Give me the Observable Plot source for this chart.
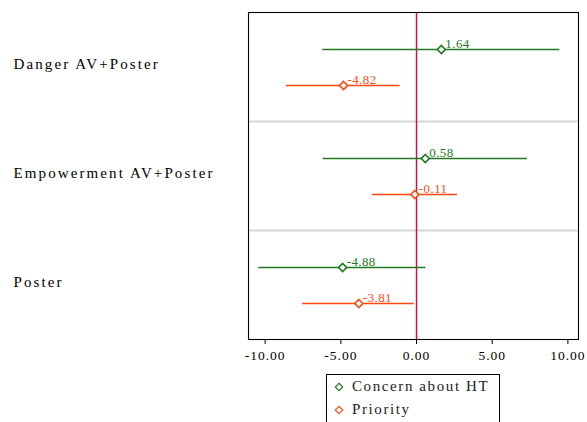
<!DOCTYPE html>
<html>
<head>
<meta charset="utf-8">
<script src="https://cdn.jsdelivr.net/npm/d3@7"></script>
<script src="https://cdn.jsdelivr.net/npm/@observablehq/plot@0.6"></script>
<style>
  html, body { margin: 0; padding: 0; background: #fff; }
  #chart { width: 587px; height: 422px; overflow: hidden; }
  .fc, .fc text { font-family: "Liberation Serif" !important; }
  .fc [aria-label="fy-axis tick label"] text { letter-spacing: 2.1px; }
  .fc [aria-label="x-axis tick label"] text { letter-spacing: 1px; }
  .fc [aria-label="text"] text { letter-spacing: 0.4px; }
  #legend { margin: 6px 0 0 326px !important; width: 174px; border: 1px solid #000; border-bottom: none; padding: 0 0 0 6px; box-sizing: border-box; height: 60px; }
  #legend, #legend * { font-family: "Liberation Serif" !important; font-size: 15px; letter-spacing: 1.6px; color: #222; }
  #legend > div { height: 23px; display: flex; align-items: center; padding: 0; margin: 0; }
  #legend svg { margin-right: 7px !important; }
</style>
</head>
<body>
<div id="chart"></div>
<script>
const groups = ["Danger AV+Poster", "Empowerment AV+Poster", "Poster"];
const series = ["Concern about HT", "Priority"];
const estimates = [1.64, -4.82, 0.58, -0.11, -4.88, -3.81];
const lower = [-6.19, -8.59, -6.17, -2.91, -10.42, -7.52];
const upper = [9.47, -1.08, 7.32, 2.71, 0.62, -0.15];
const colors = ["#217a21", "#ff4a0f"];
const xTicks = [-10, -5, 0, 5, 10];

const rows = [];
groups.forEach((g, i) => series.forEach((s, j) => {
  const k = i * series.length + j;
  rows.push({group: g, series: s, est: estimates[k], lo: lower[k], hi: upper[k]});
}));

const plot = Plot.plot({
  width: 587,
  height: 368,
  marginLeft: 248,
  marginRight: 9,
  marginTop: 11,
  marginBottom: 28,
  className: "fc",
  style: {fontFamily: "'Liberation Serif'", fontSize: "14px", color: "#000", background: "#fff"},
  x: {domain: [-11.1, 10.7], label: null},
  y: {type: "point", domain: series, padding: 1, axis: null},
  fy: {domain: groups, padding: 0, label: null},
  color: {domain: series, range: colors},
  symbol: {domain: series, range: ["diamond2", "diamond2"]},
  marks: [
    Plot.frame({stroke: "#d4d4d4", strokeWidth: 1.5}),
    Plot.ruleX([0], {stroke: "#cc1144", strokeWidth: 1.5}),
    Plot.ruleY(rows, {fy: "group", y: "series", x1: "lo", x2: "hi", stroke: "series", strokeWidth: 1.5}),
    Plot.dot(rows, {fy: "group", x: "est", y: "series", symbol: "series", stroke: "series", fill: "white", r: 3.6, strokeWidth: 1.7}),
    Plot.text(rows, {fy: "group", x: "est", y: "series", text: d => d.est.toFixed(2), fill: "series", textAnchor: "start", lineAnchor: "bottom", dx: 4, dy: -2, fontSize: 13}),
    Plot.frame({facet: "super", stroke: "#000"}),
    Plot.axisX(xTicks, {anchor: "bottom", tickSize: 5, tickFormat: d => d.toFixed(2), fontSize: 13.5, tickPadding: 6}),
    Plot.axisFy({anchor: "left", tickSize: 0, textAnchor: "start", tickPadding: 235, fontSize: 15, dy: -3})
  ]
});
document.getElementById("chart").appendChild(plot);
const leg = plot.legend("symbol", {columns: 1, swatchSize: 12});
if (leg) { leg.id = "legend"; document.getElementById("chart").appendChild(leg); }
</script>
</body>
</html>
